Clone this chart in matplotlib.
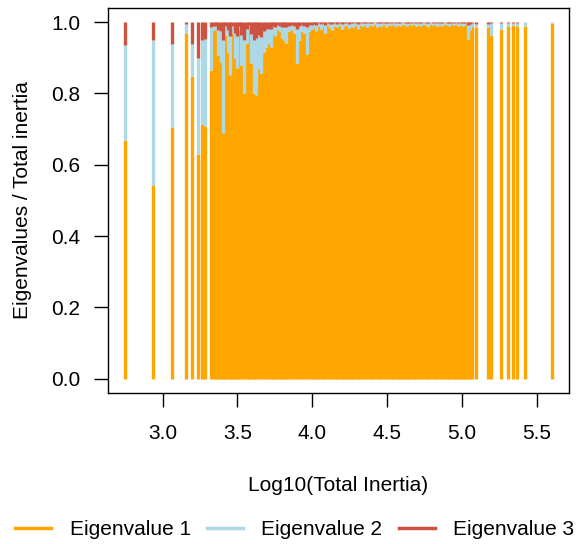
import matplotlib.pyplot as plt
import numpy as np

plt.rcParams['font.family'] = ['Liberation Sans', 'DejaVu Sans']

# log10 of total inertia for each sample
log_inertia = [
    2.750, 2.935, 3.062, 3.156, 3.194, 3.237, 3.263, 3.284, 3.325,
    3.345, 3.360, 3.371, 3.389, 3.404, 3.420, 3.434, 3.449, 3.464, 3.483,
    3.498, 3.511, 3.527, 3.545, 3.561, 3.576, 3.592, 3.610, 3.625, 3.639,
    3.659, 3.677, 3.692, 3.708, 3.722, 3.737, 3.753, 3.766, 3.782, 3.798,
    3.811, 3.826, 3.844, 3.861, 3.878, 3.896, 3.914, 3.930, 3.945, 3.963,
    3.979, 3.995,
    4.010, 4.026, 4.041, 4.057, 4.072, 4.088, 4.103, 4.119, 4.135, 4.150,
    4.166, 4.181, 4.197, 4.212, 4.228, 4.244, 4.259, 4.275, 4.290, 4.306,
    4.321, 4.337, 4.353, 4.368, 4.384, 4.399, 4.415, 4.430, 4.446, 4.462,
    4.477, 4.493, 4.508, 4.524, 4.539, 4.555, 4.571, 4.586, 4.602, 4.617,
    4.633, 4.648, 4.664, 4.680, 4.695, 4.711, 4.726, 4.742, 4.757, 4.773,
    4.789, 4.804, 4.820, 4.835, 4.851, 4.866, 4.882, 4.898, 4.913, 4.929,
    4.944, 4.960, 4.975, 4.991, 5.006, 5.022, 5.037, 5.053, 5.068, 5.095,
    5.170, 5.192, 5.257, 5.310, 5.337, 5.364, 5.420, 5.600,
]

# share of total inertia for the first three eigenvalues
eig1 = [
    0.670, 0.544, 0.706, 0.970, 0.848, 0.630, 0.713, 0.708, 0.866,
    0.978, 0.978, 0.908, 0.889, 0.690, 0.964, 0.917, 0.852, 0.969, 0.900,
    0.870, 0.980, 0.880, 0.800, 0.940, 0.980, 0.886, 0.800, 0.795, 0.870,
    0.858, 0.915, 0.930, 0.940, 0.930, 0.970, 0.960, 0.980, 0.975, 0.955,
    0.950, 0.940, 0.975, 0.980, 0.970, 0.886, 0.950, 0.975, 0.970, 0.910,
    0.975, 0.980,
    0.985, 0.975, 0.990, 0.982, 0.988, 0.970, 0.991, 0.984, 0.978, 0.990,
    0.986, 0.992, 0.980, 0.989, 0.993, 0.984, 0.990, 0.987, 0.993, 0.982,
    0.991, 0.988, 0.994, 0.986, 0.992, 0.989, 0.995, 0.985, 0.992, 0.990,
    0.994, 0.987, 0.993, 0.991, 0.995, 0.988, 0.993, 0.990, 0.995, 0.992,
    0.989, 0.994, 0.991, 0.995, 0.988, 0.993, 0.990, 0.995, 0.992, 0.987,
    0.994, 0.991, 0.995, 0.989, 0.993, 0.990, 0.994, 0.992, 0.988, 0.994,
    0.991, 0.995, 0.990, 0.993, 0.989, 0.994, 0.953, 0.978, 0.990, 0.985,
    0.985, 0.964, 0.982, 0.990, 0.993, 0.990, 0.990, 0.998,
]
eig2 = [
    0.266, 0.407, 0.233, 0.026, 0.090, 0.270, 0.238, 0.245, 0.121,
    0.012, 0.012, 0.070, 0.085, 0.260, 0.024, 0.060, 0.110, 0.020, 0.070,
    0.090, 0.010, 0.085, 0.150, 0.040, 0.012, 0.080, 0.150, 0.160, 0.095,
    0.100, 0.060, 0.050, 0.040, 0.050, 0.020, 0.025, 0.012, 0.015, 0.030,
    0.035, 0.045, 0.015, 0.012, 0.020, 0.095, 0.040, 0.017, 0.020, 0.075,
    0.017, 0.012,
    0.010, 0.018, 0.007, 0.013, 0.009, 0.022, 0.006, 0.012, 0.016, 0.007,
    0.010, 0.006, 0.015, 0.008, 0.005, 0.012, 0.007, 0.010, 0.005, 0.014,
    0.006, 0.009, 0.004, 0.011, 0.006, 0.008, 0.004, 0.012, 0.006, 0.008,
    0.004, 0.010, 0.005, 0.007, 0.004, 0.009, 0.005, 0.008, 0.004, 0.006,
    0.009, 0.004, 0.007, 0.004, 0.010, 0.005, 0.008, 0.004, 0.006, 0.011,
    0.005, 0.007, 0.004, 0.009, 0.005, 0.008, 0.005, 0.006, 0.010, 0.004,
    0.007, 0.004, 0.008, 0.005, 0.009, 0.004, 0.040, 0.018, 0.008, 0.010,
    0.010, 0.034, 0.015, 0.008, 0.005, 0.008, 0.009, 0.002,
]
eig3 = [
    0.064, 0.049, 0.061, 0.004, 0.062, 0.100, 0.049, 0.047, 0.013,
    0.010, 0.010, 0.022, 0.026, 0.050, 0.012, 0.023, 0.038, 0.011, 0.030,
    0.040, 0.010, 0.035, 0.050, 0.020, 0.008, 0.034, 0.050, 0.045, 0.035,
    0.042, 0.025, 0.020, 0.020, 0.020, 0.010, 0.015, 0.008, 0.010, 0.015,
    0.015, 0.015, 0.010, 0.008, 0.010, 0.019, 0.010, 0.008, 0.010, 0.015,
    0.008, 0.008,
    0.005, 0.007, 0.003, 0.005, 0.003, 0.008, 0.003, 0.004, 0.006, 0.003,
    0.004, 0.002, 0.005, 0.003, 0.002, 0.004, 0.003, 0.003, 0.002, 0.004,
    0.003, 0.003, 0.002, 0.003, 0.002, 0.003, 0.001, 0.003, 0.002, 0.002,
    0.002, 0.003, 0.002, 0.002, 0.001, 0.003, 0.002, 0.002, 0.001, 0.002,
    0.002, 0.002, 0.002, 0.001, 0.002, 0.002, 0.002, 0.001, 0.002, 0.002,
    0.001, 0.002, 0.001, 0.002, 0.002, 0.002, 0.001, 0.002, 0.002, 0.002,
    0.002, 0.001, 0.002, 0.002, 0.002, 0.002, 0.007, 0.004, 0.002, 0.005,
    0.005, 0.002, 0.003, 0.002, 0.002, 0.002, 0.001, 0.000,
]

labels = ["Eigenvalue 1", "Eigenvalue 2", "Eigenvalue 3"]
colors = ["#FFA500", "#ADD8E6", "#CD5340"]

x = np.array(log_inertia)
e1 = np.array(eig1)
e2 = np.array(eig2)
e3 = np.array(eig3)

fig = plt.figure(figsize=(5.76, 5.44), dpi=100)
ax = fig.add_axes([0.1875, 0.2776, 0.8003, 0.708])

# stacked vertical segments: eig1 from 0, then eig2, then eig3 on top
lw = 2.4
ax.vlines(x, 0, e1, color=colors[0], lw=lw, capstyle='butt')
ax.vlines(x, e1, e1 + e2, color=colors[1], lw=lw, capstyle='butt')
ax.vlines(x, e1 + e2, e1 + e2 + e3, color=colors[2], lw=lw, capstyle='butt')

ax.set_xlim(2.636, 5.714)
ax.set_ylim(-0.04, 1.04)
ax.set_xticks([3.0, 3.5, 4.0, 4.5, 5.0, 5.5])
ax.set_yticks([0.0, 0.2, 0.4, 0.6, 0.8, 1.0])
ax.xaxis.set_major_formatter(plt.FormatStrFormatter('%.1f'))
ax.yaxis.set_major_formatter(plt.FormatStrFormatter('%.1f'))
ax.tick_params(labelsize=15, length=10, width=1, direction='out', pad=10)
ax.tick_params(axis='x', pad=12)
for s in ax.spines.values():
    s.set_linewidth(1)

ax.set_xlabel("Log10(Total Inertia)", fontsize=15, labelpad=24)
ax.set_ylabel("Eigenvalues / Total inertia", fontsize=15, labelpad=14)

handles = [plt.Line2D([], [], color=c, lw=2.5) for c in colors]
fig.legend(handles, labels, loc='center', bbox_to_anchor=(0.512, 0.027),
           ncol=3, frameon=False, fontsize=15, handlelength=1.7,
           handletextpad=0.9, columnspacing=0.8)

plt.savefig("out.png", dpi=100)
